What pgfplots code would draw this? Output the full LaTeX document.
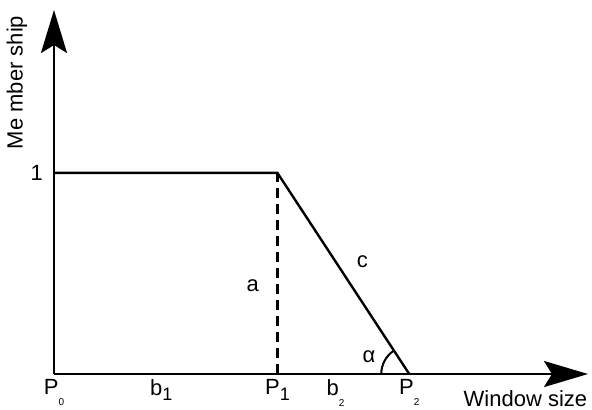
\documentclass[border=0pt]{standalone}
\usepackage{pgfplots}
\pgfplotsset{compat=1.18}
\usepackage{fontspec}
\setmainfont{Liberation Sans}
\usetikzlibrary{arrows.meta}

% subscripts as drawn in the figure: small and set low
\newcommand{\lo}[1]{\raisebox{-0.95ex}{\tiny #1}}
\newcommand{\one}{\raisebox{-0.5ex}{\small 1}}
\newcommand{\lbl}{\fontsize{11}{13}\selectfont}

\begin{document}
\begin{tikzpicture}
\begin{axis}[
  scale only axis,
  width=267pt,
  height=182pt,
  axis lines=left,
  xmin=0, xmax=2.39,
  ymin=0, ymax=1.81,
  clip=false,
  axis line style={line width=1.2pt},
  x axis line style={-{Stealth[length=22pt,width=13pt,inset=4pt]}},
  y axis line style={-{Stealth[length=21.5pt,width=13pt,inset=4pt]}},
  major tick length=0pt,
  xtick={0,0.48,1,1.26,1.59},
  xticklabels={P\lo{0},b\one,P\one,b\lo{2},P\lo{2}},
  ytick={1},
  yticklabels={1},
  tick label style={font=\lbl},
  xticklabel style={yshift=1pt},
  yticklabel style={xshift=-2pt},
  /pgf/number format/assume math mode=true,
]
\coordinate (O) at (axis cs:0,0);
% membership function
\addplot[black, line width=1.2pt] coordinates {(0,1) (1,1) (1.59,0)};
\addplot[black, line width=1.2pt, dash pattern=on 5pt off 3pt] coordinates {(1,0) (1,1)};
% angle mark at P2
\draw[black, line width=1pt] (axis cs:1.59,0) ++(180:14pt) arc[start angle=180, end angle=123, radius=14pt];
\node[font=\lbl] at (axis cs:0.89,0.44) {a};
\node[font=\lbl] at (axis cs:1.38,0.56) {c};
\node[font=\lbl] at (axis cs:1.41,0.085) {α};
\node[font=\lbl] at (axis cs:2.11,-0.12) {Window size};
\node[font=\lbl, rotate=90] at (axis cs:-0.166,1.45) {Me mber ship};
\end{axis}
\pgfresetboundingbox
\path[use as bounding box] (O) ++(-27pt,-17.5pt) rectangle ++(296pt,204.5pt);
\end{tikzpicture}
\end{document}
